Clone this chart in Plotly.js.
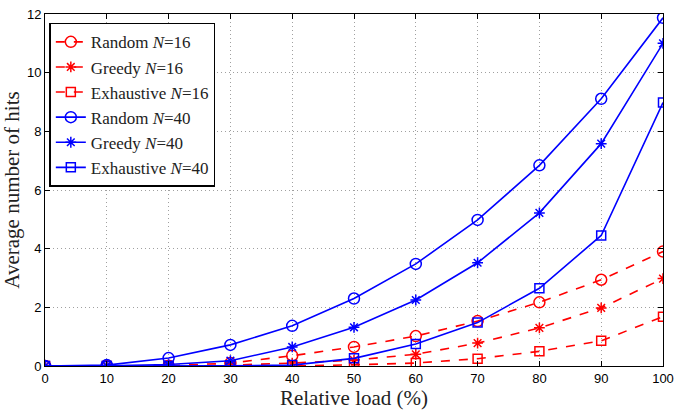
<!DOCTYPE html>
<html>
<head>
<meta charset="utf-8">
<script src="https://cdn.plot.ly/plotly-3.0.1.min.js"></script>
<style>html,body{margin:0;padding:0;background:#fff;}#chart{width:674px;height:410px;}</style>
</head>
<body>
<div id="chart"></div>
<script>
const load = [0, 10, 20, 30, 40, 50, 60, 70, 80, 90, 100];
const randomN16 = [0, 0, 0.01, 0.1, 0.35, 0.65, 1.02, 1.53, 2.17, 2.94, 3.9];
const greedyN16 = [0, 0, 0, 0.03, 0.1, 0.2, 0.4, 0.78, 1.3, 1.98, 2.98];
const exhaustiveN16 = [0, 0, 0, 0, 0, 0.04, 0.1, 0.25, 0.5, 0.86, 1.68];
const randomN40 = [0, 0.03, 0.27, 0.72, 1.37, 2.3, 3.48, 4.98, 6.84, 9.11, 11.87];
const greedyN40 = [0, 0.01, 0.05, 0.18, 0.65, 1.32, 2.25, 3.52, 5.22, 7.58, 11.0];
const exhaustiveN40 = [0, 0, 0, 0.01, 0.03, 0.26, 0.75, 1.48, 2.65, 4.45, 8.98];
const xTicks = [0, 10, 20, 30, 40, 50, 60, 70, 80, 90, 100];
const yTicks = [0, 2, 4, 6, 8, 10, 12];

const RED = '#ff0000', BLUE = '#0000ff';
function tr(y, name, color, dash, symbol, size) {
  return {
    x: load, y: y, name: name, type: 'scatter', mode: 'lines+markers',
    line: {color: color, width: 1.6, dash: dash},
    marker: {symbol: symbol, size: size, color: color, line: {color: color, width: 1.5}}
  };
}
const data = [
  tr(randomN16, 'Random <i>N</i>=16', RED, 'dash', 'circle-open', 11),
  tr(greedyN16, 'Greedy <i>N</i>=16', RED, 'dash', 'asterisk-open', 9),
  tr(exhaustiveN16, 'Exhaustive <i>N</i>=16', RED, 'dash', 'square-open', 9),
  tr(randomN40, 'Random <i>N</i>=40', BLUE, 'solid', 'circle-open', 11),
  tr(greedyN40, 'Greedy <i>N</i>=40', BLUE, 'solid', 'asterisk-open', 9),
  tr(exhaustiveN40, 'Exhaustive <i>N</i>=40', BLUE, 'solid', 'square-open', 9)
];
const SERIF = '"Liberation Serif", serif';
const axisCommon = {
  showline: true, linecolor: '#000', linewidth: 1, mirror: 'allticks',
  ticks: 'inside', ticklen: 5, tickcolor: '#000',
  showgrid: true, gridcolor: '#a0a0a0', griddash: '1px,3px', gridwidth: 1,
  zeroline: false, ticklabeloverflow: 'allow',
  tickfont: {family: '"Liberation Sans", sans-serif', size: 13, color: '#000'}
};
const titleFont = {family: SERIF, size: 21, color: '#222'};
const layout = {
  width: 674, height: 410,
  margin: {l: 45, r: 11, t: 14, b: 44},
  paper_bgcolor: '#fff', plot_bgcolor: '#fff',
  showlegend: true,
  xaxis: Object.assign({}, axisCommon, {
    range: [0, 100], tickvals: xTicks, ticktext: xTicks.map(String),
    title: {text: 'Relative load (%)', font: titleFont, standoff: 7}
  }),
  yaxis: Object.assign({}, axisCommon, {
    range: [0, 12], tickvals: yTicks, ticktext: yTicks.map(String),
    title: {text: 'Average number of hits', font: titleFont, standoff: 10}
  }),
  legend: {
    x: 0.007, y: 0.975, xanchor: 'left', yanchor: 'top',
    bgcolor: '#fff', bordercolor: '#000', borderwidth: 1.5,
    font: {family: SERIF, size: 17, color: '#222'},
    tracegroupgap: 0, itemwidth: 30
  }
};
Plotly.newPlot('chart', data, layout, {displayModeBar: false, staticPlot: true});
</script>
</body>
</html>
